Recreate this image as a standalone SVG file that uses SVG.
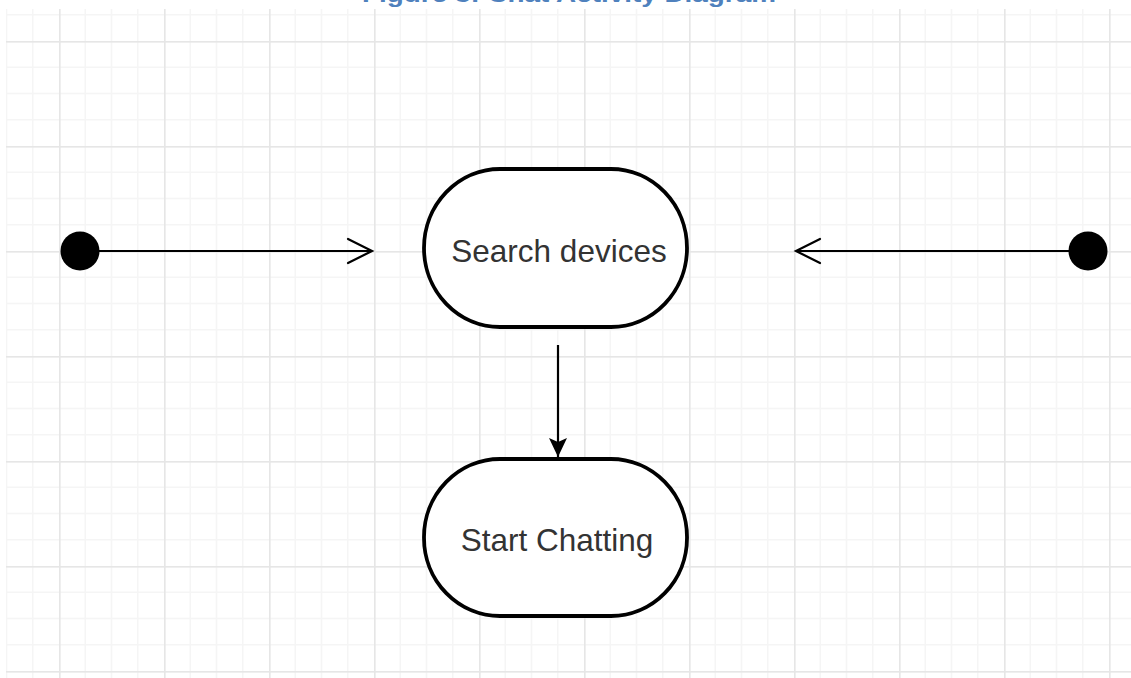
<svg xmlns="http://www.w3.org/2000/svg" width="1131" height="678" viewBox="0 0 1131 678">
  <style>
    .state { fill: #ffffff; stroke: #000000; stroke-width: 3.8; }
    .label { font-family: "Liberation Sans", Arial, sans-serif; font-size: 31.5px; fill: #333333; text-anchor: middle; }
    .flow { stroke: #000000; stroke-width: 2.2; fill: none; }
    .open { stroke: #000000; stroke-width: 2.2; fill: none; stroke-linecap: round; stroke-linejoin: miter; }
    .start { fill: #000000; }
    .caption { font-family: "Liberation Sans", Arial, sans-serif; font-size: 22px; font-weight: bold; fill: #4f81bd; }
  </style>
  <defs>
    <pattern id="grid" patternUnits="userSpaceOnUse" x="59" y="41" width="105" height="105">
      <rect width="105" height="105" fill="#ffffff"/>
      <g stroke="#f5f5f5" stroke-width="1.5">
        <line x1="26.25" y1="0" x2="26.25" y2="105"/>
        <line x1="52.5" y1="0" x2="52.5" y2="105"/>
        <line x1="78.75" y1="0" x2="78.75" y2="105"/>
        <line x1="0" y1="26.25" x2="105" y2="26.25"/>
        <line x1="0" y1="52.5" x2="105" y2="52.5"/>
        <line x1="0" y1="78.75" x2="105" y2="78.75"/>
      </g>
      <rect x="0" y="0" width="1.6" height="105" fill="#e6e6e6"/>
      <rect x="0" y="0" width="105" height="1.6" fill="#e6e6e6"/>
    </pattern>
    <marker id="classic" viewBox="0 0 20 22" refX="19" refY="11" markerWidth="20" markerHeight="22" markerUnits="userSpaceOnUse" orient="auto">
      <path d="M0,2 L19,11 L0,20 L4,11 Z" fill="#000000"/>
    </marker>
  </defs>

  <rect width="1131" height="678" fill="#ffffff"/>
  <rect x="6" y="9" width="1125" height="669" fill="url(#grid)"/>

  <text class="caption" x="362" y="2" textLength="414" lengthAdjust="spacingAndGlyphs">Figure 3: Chat Activity Diagram</text>

  <g id="connectors">
    <line class="flow" x1="80" y1="251" x2="372" y2="251"/>
    <polyline class="open" points="348,239 372,251 348,263"/>
    <line class="flow" x1="1088" y1="251" x2="796" y2="251"/>
    <polyline class="open" points="820,239 796,251 820,263"/>
    <line class="flow" x1="558" y1="345" x2="558" y2="457" marker-end="url(#classic)"/>
  </g>

  <g id="initial-left">
    <circle class="start" cx="80" cy="251" r="19.5"/>
  </g>
  <g id="initial-right">
    <circle class="start" cx="1088" cy="251" r="19.5"/>
  </g>

  <g id="search-devices">
    <rect class="state" x="424" y="169" width="263" height="158" rx="76" ry="79"/>
    <text class="label" x="559" y="262">Search devices</text>
  </g>

  <g id="start-chatting">
    <rect class="state" x="424" y="459" width="263" height="157" rx="76" ry="78"/>
    <text class="label" x="557" y="551">Start Chatting</text>
  </g>
</svg>
